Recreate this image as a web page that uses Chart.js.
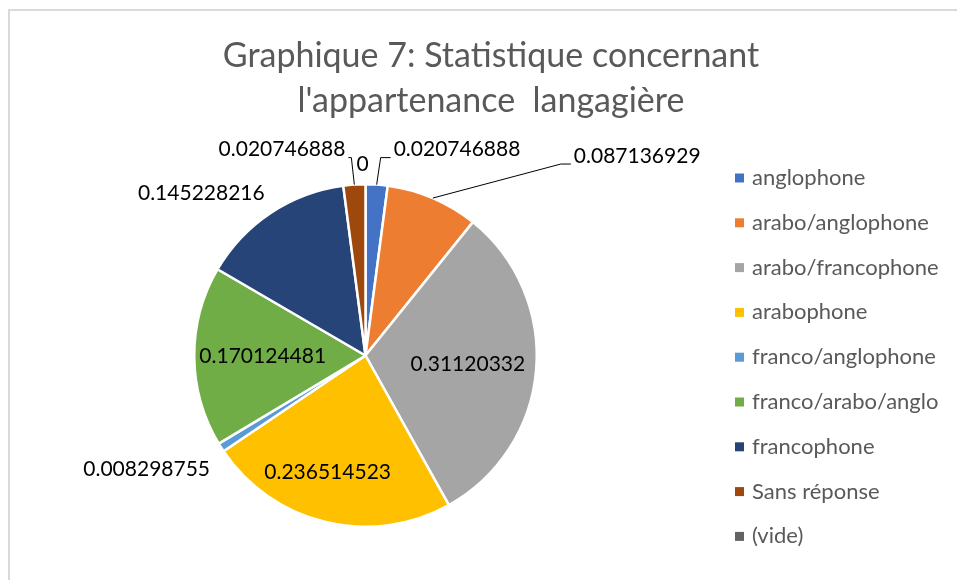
<!DOCTYPE html>
<html>
<head>
<meta charset="utf-8">
<script src="https://cdn.jsdelivr.net/npm/chart.js@4"></script>
<style>
body { margin: 0; background: #fff; }
#wrap { position: relative; width: 957px; height: 580px; overflow: hidden; }
#frame { position: absolute; left: 8px; top: 9px; width: 1000px; height: 620px; border: 2px solid #d9d9d9; box-sizing: border-box; }
canvas { position: absolute; left: 0; top: 0; }
</style>
</head>
<body>
<div id="wrap">
    <div id="frame"></div>
    <canvas id="chart" width="957" height="580"></canvas>
</div>
<script>
// Data
const categories = ['anglophone', 'arabo/anglophone', 'arabo/francophone', 'arabophone', 'franco/anglophone',
    'franco/arabo/anglo', 'francophone', 'Sans réponse', '(vide)'];
const shares = [0.020746888, 0.087136929, 0.31120332, 0.236514523, 0.008298755,
    0.170124481, 0.145228216, 0.020746888, 0];
const sliceColors = ['#4472C4', '#ED7D31', '#A5A5A5', '#FFC000', '#5B9BD5',
    '#70AD47', '#264478', '#9E480E', '#636363'];
const titleLines = ['Graphique 7: Statistique concernant', "l'appartenance  langagière"];

// where each value label goes (inside at r * radius, or outside shifted from the arc edge)
const labelPlacement = [
    { dx: 17, dy: -35, align: 'left', leader: true },
    { dx: 141, dy: -42, align: 'left', leader: true },
    { inside: true, r: 0.6 },
    { inside: true, r: 0.7, dx: -10 },
    { dx: -11, dy: 22, align: 'right' },
    { inside: true, r: 0.6 },
    { dx: -6, dy: -20, align: 'right' },
    { dx: -9, dy: -35, align: 'right', leader: true, elbow: 6 },
    { dx: -3, dy: -20, align: 'center' }
];

const FONT = 'Lato, "Open Sans", sans-serif';

const pieLabels = {
    id: 'pieLabels',
    afterDatasetsDraw(chart) {
        const ctx = chart.ctx;
        const arcs = chart.getDatasetMeta(0).data;
        ctx.save();
        ctx.font = '21px ' + FONT;
        ctx.fillStyle = '#000';
        ctx.strokeStyle = '#000';
        ctx.lineWidth = 1;
        ctx.textBaseline = 'middle';
        arcs.forEach((arc, i) => {
            const { x, y, startAngle, endAngle, outerRadius } =
                arc.getProps(['x', 'y', 'startAngle', 'endAngle', 'outerRadius'], true);
            const mid = (startAngle + endAngle) / 2;
            const p = labelPlacement[i];
            const text = String(shares[i]);
            if (p.inside) {
                ctx.textAlign = 'center';
                ctx.fillText(text, x + Math.cos(mid) * outerRadius * p.r + (p.dx || 0),
                    y + Math.sin(mid) * outerRadius * p.r + (p.dy || 0));
                return;
            }
            const ex = x + Math.cos(mid) * outerRadius;
            const ey = y + Math.sin(mid) * outerRadius;
            const ax = ex + p.dx;
            const ay = ey + p.dy;
            if (p.leader) {
                const side = p.align === 'left' ? 1 : -1;
                const elbow = p.elbow || 13;
                ctx.beginPath();
                ctx.moveTo(ex, ey);
                ctx.lineTo(ax - side * elbow, ay + 8);
                ctx.lineTo(ax - side * 3, ay + 8);
                ctx.stroke();
            }
            ctx.textAlign = p.align;
            ctx.fillText(text, ax, ay);
        });
        ctx.restore();
    },
    afterDraw(chart) {
        const ctx = chart.ctx;
        ctx.save();
        // title, centred over pie + legend
        ctx.font = '34px ' + FONT;
        ctx.fillStyle = '#595959';
        ctx.textAlign = 'center';
        ctx.textBaseline = 'alphabetic';
        titleLines.forEach((line, i) => ctx.fillText(line, 491, 67 + i * 45));

        // legend on the right
        ctx.font = '22px ' + FONT;
        ctx.textBaseline = 'middle';
        ctx.textAlign = 'left';
        categories.forEach((name, i) => {
            const ly = 178 + i * 44.8;
            ctx.fillStyle = sliceColors[i];
            ctx.fillRect(735, ly - 4.5, 9, 9);
            ctx.fillStyle = '#595959';
            ctx.fillText(name, 752, ly);
        });
        ctx.restore();
    }
};

const ctx = document.getElementById('chart').getContext('2d');
const chart = new Chart(ctx, {
    type: 'pie',
    data: {
        labels: categories,
        datasets: [{
            data: shares,
            backgroundColor: sliceColors,
            borderColor: '#fff',
            borderWidth: 2.5
        }]
    },
    options: {
        responsive: false,
        animation: false,
        devicePixelRatio: 1,
        layout: {
            padding: { left: 193, right: 419, top: 183, bottom: 52 }
        },
        plugins: {
            legend: { display: false },
            tooltip: { enabled: false },
            title: { display: false }
        }
    },
    plugins: [pieLabels]
});
</script>
</body>
</html>
